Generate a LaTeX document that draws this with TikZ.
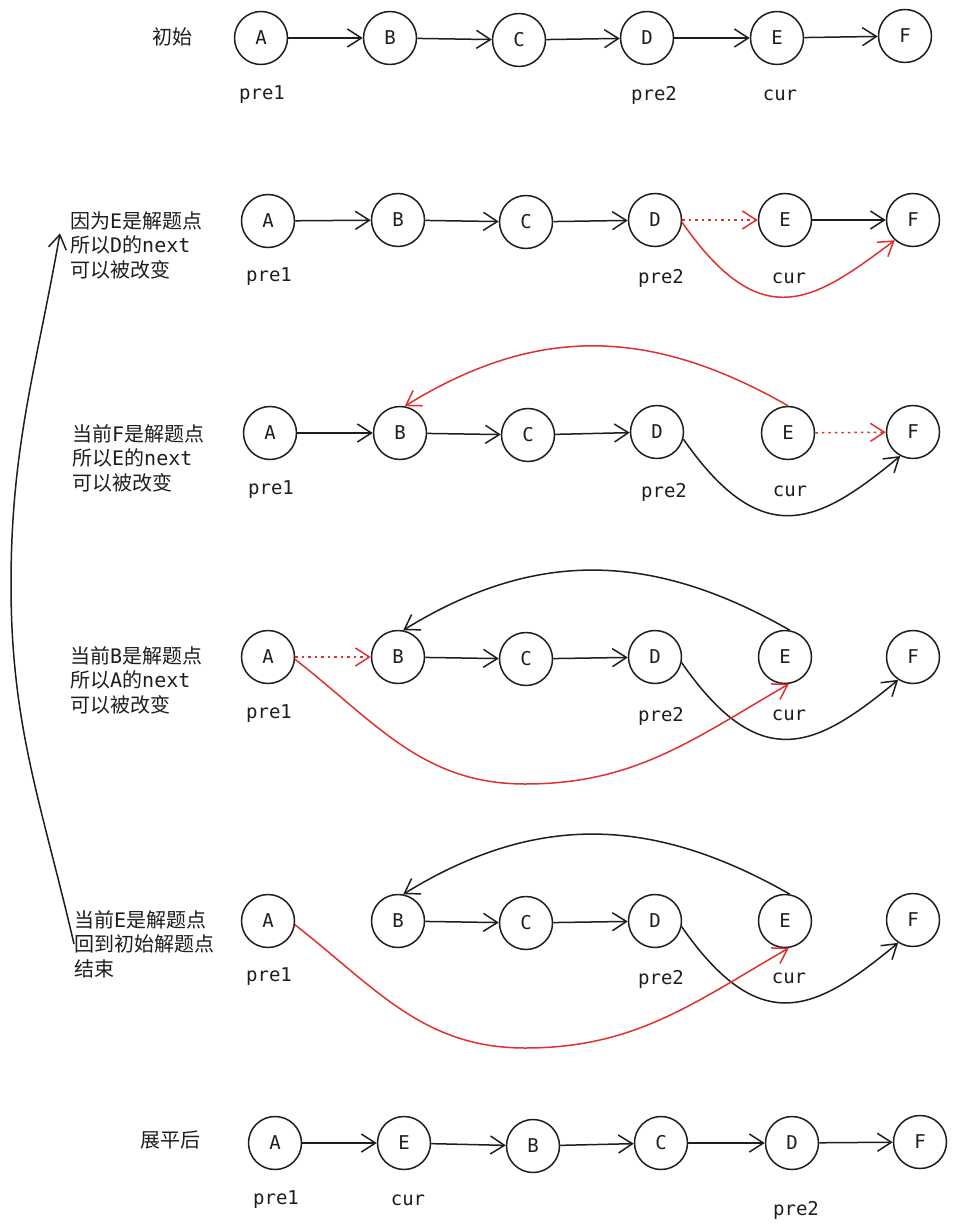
\documentclass[tikz,border=0pt]{standalone}
\usepackage{fontspec}
\setmonofont{DejaVu Sans Mono}
\newfontfamily\cjk{Noto Sans CJK SC}
\usetikzlibrary{arrows.meta}
\newcommand{\zh}[1]{{\cjk #1}}
\definecolor{ink}{HTML}{1E1E1E}
\definecolor{redline}{HTML}{E03131}
\tikzset{
  listnode/.style={circle, draw=ink, line width=1.5pt, minimum size=53pt, inner sep=0pt,
    font=\ttfamily\fontsize{19}{22}\selectfont, text=ink},
  ptrlabel/.style={font=\ttfamily\fontsize{19}{22}\selectfont, text=ink, inner sep=0pt},
  note/.style={align=left, inner sep=0pt, font=\ttfamily\fontsize{20}{24.5}\selectfont, text=ink},
  link/.style={draw=ink, line width=1.5pt, -{Straight Barb[length=14pt,width=18pt]}},
  redlink/.style={link, draw=redline},
  cutlink/.style={redlink, dash pattern=on 2.5pt off 4pt},
}
\begin{document}
\begin{tikzpicture}[x=1pt, y=-1pt]
    \useasboundingbox[fill=white] (0,0) rectangle (956,1230);
    % row 1
    \node[note] (t1) at (172,37) {\zh{初始}};
    \node[listnode] (a1) at (261,38) {A};
    \node[listnode] (b1) at (390,38) {B};
    \node[listnode] (c1) at (519,40) {C};
    \node[listnode] (d1) at (647,38) {D};
    \node[listnode] (e1) at (777,38) {E};
    \node[listnode] (f1) at (905,36) {F};
    \draw[link] (a1) -- (b1);
    \draw[link] (b1) -- (c1);
    \draw[link] (c1) -- (d1);
    \draw[link] (d1) -- (e1);
    \draw[link] (e1) -- (f1);
    \node[ptrlabel] (p1a) at (262,95) {pre1};
    \node[ptrlabel] (p1b) at (654,95) {pre2};
    \node[ptrlabel] (p1c) at (780,95) {cur};
    % row 2
    \node[note, anchor=west] (t2) at (70,245) {\zh{因为}E\zh{是解题点}\\\zh{所以}D\zh{的}next\\\zh{可以被改变}};
    \node[listnode] (a2) at (268,221) {A};
    \node[listnode] (b2) at (398,220) {B};
    \node[listnode] (c2) at (526,222) {C};
    \node[listnode] (d2) at (655,220) {D};
    \node[listnode] (e2) at (785,220) {E};
    \node[listnode] (f2) at (913,220) {F};
    \draw[link] (a2) -- (b2);
    \draw[link] (b2) -- (c2);
    \draw[link] (c2) -- (d2);
    \draw[cutlink] (d2) -- (e2);
    \draw[link] (e2) -- (f2);
    \draw[redlink] (d2.-5) .. controls +(80,115) and +(-80,60) .. (f2.228);
    \node[ptrlabel] (p2a) at (269,277) {pre1};
    \node[ptrlabel] (p2b) at (661,278) {pre2};
    \node[ptrlabel] (p2c) at (789,278) {cur};
    % row 3
    \node[note, anchor=west] (t3) at (72,458) {\zh{当前}F\zh{是解题点}\\\zh{所以}E\zh{的}next\\\zh{可以被改变}};
    \node[listnode] (a3) at (270,433) {A};
    \node[listnode] (b3) at (400,433) {B};
    \node[listnode] (c3) at (528,435) {C};
    \node[listnode] (d3) at (657,432) {D};
    \node[listnode] (e3) at (788,433) {E};
    \node[listnode] (f3) at (913,432) {F};
    \draw[link] (a3) -- (b3);
    \draw[link] (b3) -- (c3);
    \draw[link] (c3) -- (d3);
    \draw[cutlink] (e3) -- (f3);
    \draw[link] (d3.-15) .. controls +(80,115) and +(-80,66) .. (f3.242);
    \draw[redlink] (e3.north) .. controls +(-140,-80) and +(130,-80) .. (b3.80);
    \node[ptrlabel] (p3a) at (271,490) {pre1};
    \node[ptrlabel] (p3b) at (664,492) {pre2};
    \node[ptrlabel] (p3c) at (790,491) {cur};
    % row 4
    \node[note, anchor=west] (t4) at (70,680) {\zh{当前}B\zh{是解题点}\\\zh{所以}A\zh{的}next\\\zh{可以被改变}};
    \node[listnode] (a4) at (268,657) {A};
    \node[listnode] (b4) at (398,657) {B};
    \node[listnode] (c4) at (526,659) {C};
    \node[listnode] (d4) at (655,657) {D};
    \node[listnode] (e4) at (785,657) {E};
    \node[listnode] (f4) at (913,657) {F};
    \draw[cutlink] (a4) -- (b4);
    \draw[link] (b4) -- (c4);
    \draw[link] (c4) -- (d4);
    \draw[link] (e4.80) .. controls +(-140,-80) and +(130,-80) .. (b4.79);
    \draw[link] (d4.-12) .. controls +(80,115) and +(-80,66) .. (f4.237);
    \draw[redlink] (a4.-5) to[out=-38, in=180] (525,784) to[out=0, in=-150] (e4.-82);
    \node[ptrlabel] (p4a) at (269,714) {pre1};
    \node[ptrlabel] (p4b) at (661,716) {pre2};
    \node[ptrlabel] (p4c) at (789,715) {cur};
    % row 5
    \node[note, anchor=west] (t5) at (74,944) {\zh{当前}E\zh{是解题点}\\\zh{回到初始解题点}\\\zh{结束}};
    \node[listnode] (a5) at (268,921) {A};
    \node[listnode] (b5) at (398,921) {B};
    \node[listnode] (c5) at (526,923) {C};
    \node[listnode] (d5) at (655,921) {D};
    \node[listnode] (e5) at (785,921) {E};
    \node[listnode] (f5) at (913,920) {F};
    \draw[link] (b5) -- (c5);
    \draw[link] (c5) -- (d5);
    \draw[link] (e5.80) .. controls +(-140,-80) and +(130,-80) .. (b5.79);
    \draw[link] (d5.-12) .. controls +(80,115) and +(-80,66) .. (f5.237);
    \draw[redlink] (a5.-8) to[out=-38, in=180] (525,1048) to[out=0, in=-150] (e5.-82);
    \node[ptrlabel] (p5a) at (269,977) {pre1};
    \node[ptrlabel] (p5b) at (661,979) {pre2};
    \node[ptrlabel] (p5c) at (789,978) {cur};
    % back to the start
    \draw[link] (t5.west) to[out=103, in=-90] (11,585) to[out=90, in=-100] ([xshift=-10pt]t2.170);
    % row 6
    \node[note] (t6) at (170,1140) {\zh{展平后}};
    \node[listnode] (a6) at (275,1143) {A};
    \node[listnode] (e6) at (404,1143) {E};
    \node[listnode] (b6) at (533,1146) {B};
    \node[listnode] (c6) at (661,1143) {C};
    \node[listnode] (d6) at (792,1143) {D};
    \node[listnode] (f6) at (920,1142) {F};
    \draw[link] (a6) -- (e6);
    \draw[link] (e6) -- (b6);
    \draw[link] (b6) -- (c6);
    \draw[link] (c6) -- (d6);
    \draw[link] (d6) -- (f6);
    \node[ptrlabel] (p6a) at (276,1200) {pre1};
    \node[ptrlabel] (p6b) at (408,1200) {cur};
    \node[ptrlabel] (p6c) at (796,1210) {pre2};
\end{tikzpicture}
\end{document}
